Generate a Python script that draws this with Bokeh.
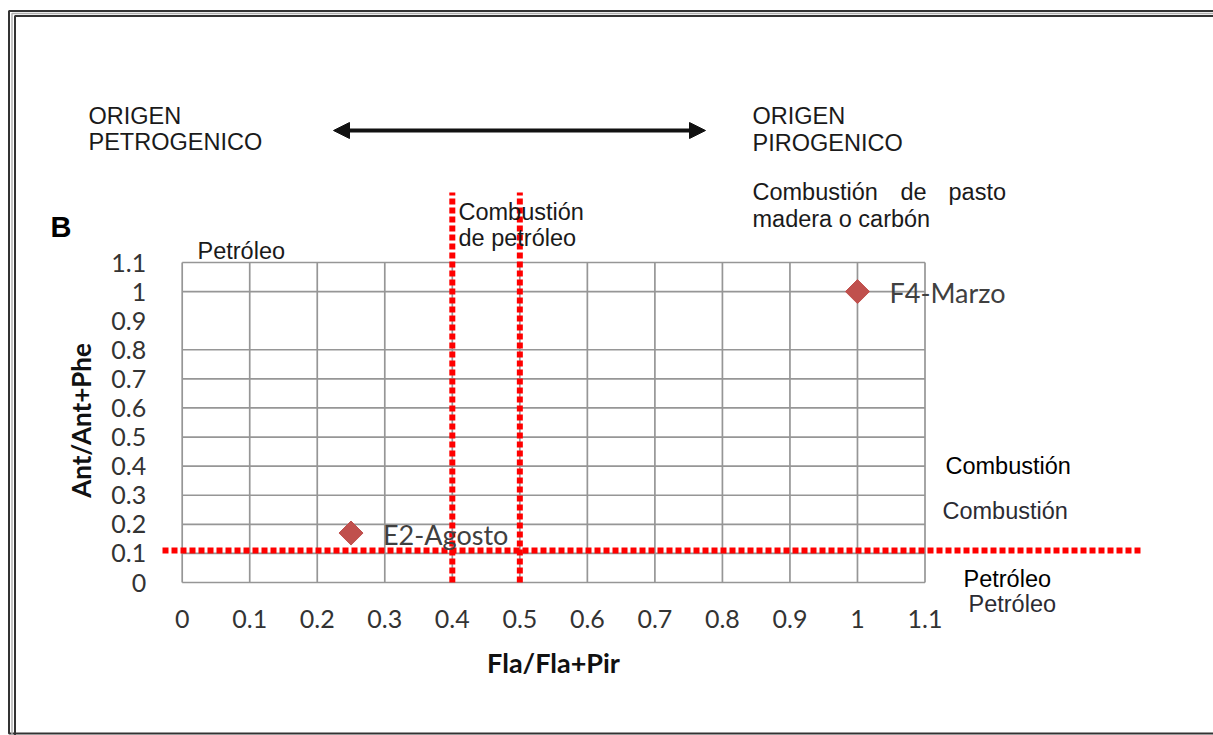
import math
from bokeh.plotting import figure
from bokeh.models import (Range1d, FixedTicker, Label, LabelSet, ColumnDataSource,
                          Arrow, NormalHead, BoxAnnotation)
from bokeh.core.properties import value
from bokeh.embed import file_html
from bokeh.resources import INLINE

# ---------------- data ----------------
sample_names = ["E2-Agosto", "F4-Marzo"]
fla_ratio = [0.25, 1.0]          # Fla/Fla+Pir
ant_ratio = [0.17, 1.0]          # Ant/Ant+Phe

x_ticks = [0, 0.1, 0.2, 0.3, 0.4, 0.5, 0.6, 0.7, 0.8, 0.9, 1, 1.1]
x_tick_labels = ["0", "0.1", "0.2", "0.3", "0.4", "0.5", "0.6", "0.7", "0.8", "0.9", "1", "1.1"]
y_ticks = [0, 0.1, 0.2, 0.3, 0.4, 0.5, 0.6, 0.7, 0.8, 0.9, 1, 1.1]
y_tick_labels = ["0", "0.1", "0.2", "0.3", "0.4", "0.5", "0.6", "0.7", "0.8", "0.9", "1", "1.1"]
y_grid_values = [0, 0.1, 0.2, 0.3, 0.4, 0.5, 0.6, 0.7, 0.8, 1, 1.1]

fla_thresholds = [0.4, 0.5]      # vertical red dotted lines
ant_thresholds = [0.11]          # horizontal red dotted line

# ---------------- layout (pixels) ----------------
W, H = 1213, 735
X0PX, X11PX = 181.7, 924.5
Y0PX, Y11PX = 582.0, 262.0
PPX = (X11PX - X0PX) / 1.1
PPY = (Y0PX - Y11PX) / 1.1
x_start = -X0PX / PPX
x_end = x_start + W / PPX
y_start = -(H - Y0PX) / PPY
y_end = y_start + H / PPY


def dx(px):
    return x_start + px / PPX


def dy(py):
    return y_start + (H - py) / PPY


p = figure(width=W, height=H, output_backend="svg", toolbar_location=None,
           x_range=Range1d(x_start, x_end), y_range=Range1d(y_start, y_end),
           min_border=0)
p.outline_line_color = None
p.grid.visible = False
p.background_fill_color = "white"
p.border_fill_color = "white"

# grid drawn from tick lists
gx0, gx1 = x_ticks[0], x_ticks[-1]
gy0, gy1 = y_ticks[0], y_ticks[-1]
p.segment(x0=x_ticks, y0=[gy0] * len(x_ticks), x1=x_ticks, y1=[gy1] * len(x_ticks),
          line_color="#969696", line_width=1.7)
p.segment(x0=[gx0] * len(y_grid_values), y0=y_grid_values, x1=[gx1] * len(y_grid_values),
          y1=y_grid_values, line_color="#969696", line_width=1.7)

# axes drawn inside the frame at the origin
tick_font = "Lato"
p.xaxis.ticker = FixedTicker(ticks=x_ticks)
p.xaxis.major_label_overrides = {t: l for t, l in zip(x_ticks, x_tick_labels)}
p.yaxis.ticker = FixedTicker(ticks=y_ticks)
p.yaxis.major_label_overrides = {t: l for t, l in zip(y_ticks, y_tick_labels)}
p.xaxis.fixed_location = 0
p.yaxis.fixed_location = 0
for ax in (p.xaxis, p.yaxis):
    ax.axis_line_color = None
    ax.major_tick_line_color = None
    ax.minor_tick_line_color = None
    ax.major_label_text_font = tick_font
    ax.major_label_text_font_size = "25px"
    ax.major_label_text_color = "#333333"
p.xaxis.major_label_standoff = 21
p.yaxis.major_label_standoff = 30

# red dotted thresholds
v_top = dy(192)
h_left, h_right = dx(162), dx(1140)
p.segment(x0=fla_thresholds, y0=[gy0] * len(fla_thresholds), x1=fla_thresholds,
          y1=[v_top] * len(fla_thresholds), line_color="#ff0000", line_width=6,
          line_dash="6 3")
p.segment(x0=[h_left] * len(ant_thresholds), y0=ant_thresholds,
          x1=[h_right] * len(ant_thresholds), y1=ant_thresholds,
          line_color="#ff0000", line_width=6, line_dash="6 3")

# points
src = ColumnDataSource(dict(x=fla_ratio, y=ant_ratio, name=sample_names))
p.scatter("x", "y", source=src, marker="square", angle=math.pi / 4, size=17,
          fill_color="#C0504D", line_color="#C0504D")
p.add_layout(LabelSet(x="x", y="y", text="name", source=src, x_offset=32, y_offset=-1,
                      text_baseline="middle", text_font=value("Lato"),
                      text_font_size="27px", text_color="#404040"))

# axis titles
p.add_layout(Label(x=dx(553), y=dy(662), text="Fla/Fla+Pir", text_align="center",
                   text_baseline="middle", text_font="Lato", text_font_style="bold",
                   text_font_size="27px", text_color="#111111"))
p.add_layout(Label(x=dx(80), y=dy(420), text="Ant/Ant+Phe", text_align="center",
                   text_baseline="middle", angle=math.pi / 2, text_font="Lato",
                   text_font_style="bold", text_font_size="26px", text_color="#111111"))

# annotation texts (pixel baselines, corrected for renderer offset)
ARIAL = "Liberation Sans"
SHIFT = 9
texts = [
    ("ORIGEN", 88, 124, "#1a1a1a"),
    ("PETROGENICO", 88, 150, "#1a1a1a"),
    ("ORIGEN", 752, 124, "#1a1a1a"),
    ("PIROGENICO", 752, 151, "#1a1a1a"),
    ("Combustión", 752, 200, "#1a1a1a"),
    ("de", 900, 200, "#1a1a1a"),
    ("pasto", 948, 200, "#1a1a1a"),
    ("madera o carbón", 752, 227, "#1a1a1a"),
    ("Combustión", 458, 220, "#1a1a1a"),
    ("de petróleo", 458, 246, "#1a1a1a"),
    ("Petróleo", 197, 259, "#1a1a1a"),
    ("Combustión", 945, 474, "#000000"),
    ("Combustión", 942, 519, "#2b2b33"),
    ("Petróleo", 963, 587, "#000000"),
    ("Petróleo", 968, 612, "#2b2b33"),
]
for t, xp, yp, c in texts:
    p.add_layout(Label(x=dx(xp), y=dy(yp - SHIFT), text=t, text_align="left",
                       text_baseline="alphabetic", text_font=ARIAL,
                       text_font_size="23.5px", text_color=c))
p.add_layout(Label(x=dx(50), y=dy(237 - 11), text="B", text_align="left",
                   text_baseline="alphabetic", text_font=ARIAL, text_font_style="bold",
                   text_font_size="29px", text_color="#000000"))

# double-headed arrow
p.add_layout(Arrow(x_start=dx(333), y_start=dy(130), x_end=dx(705), y_end=dy(130),
                   line_width=4, line_color="#111111",
                   start=NormalHead(size=16, fill_color="#111111", line_color="#111111"),
                   end=NormalHead(size=16, fill_color="#111111", line_color="#111111")))

# double border
p.add_layout(BoxAnnotation(left=dx(8.5), right=dx(1300), top=dy(10.5), bottom=dy(733),
                           fill_alpha=0, line_color="#333333", line_width=2, line_alpha=1))
p.add_layout(BoxAnnotation(left=dx(11.5), right=dx(1300), top=dy(13), bottom=dy(800),
                           fill_alpha=0, line_color="#b0b0b0", line_width=1.5, line_alpha=1))
p.add_layout(BoxAnnotation(left=dx(14.5), right=dx(1300), top=dy(15.5), bottom=dy(800),
                           fill_alpha=0, line_color="#333333", line_width=2, line_alpha=1))

open("out.html", "w").write(file_html(p, INLINE))
